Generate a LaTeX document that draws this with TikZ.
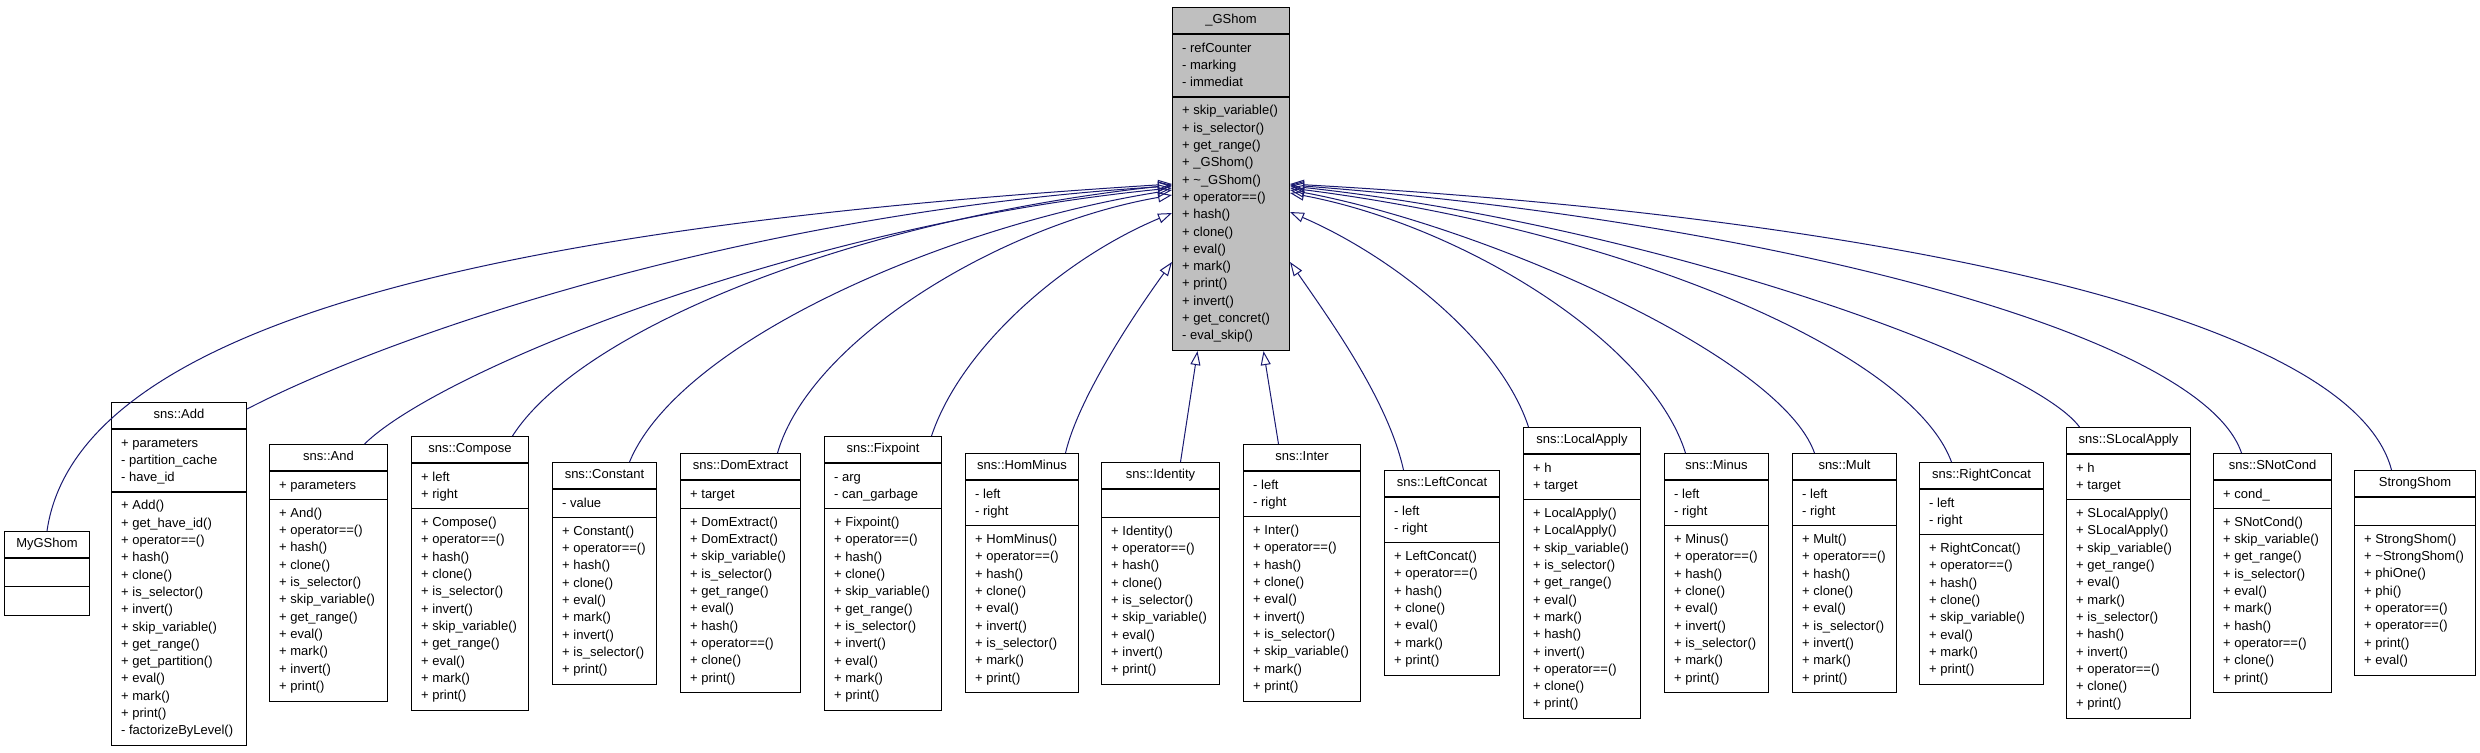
\documentclass[tikz,border=0pt]{standalone}
\usepackage{fontspec}
\newfontfamily\umlfamily{Liberation Sans}
\usetikzlibrary{arrows.meta}
\definecolor{edgeblue}{HTML}{191970}
\definecolor{basegray}{HTML}{BFBFBF}
\newcommand{\umlfont}{\umlfamily\fontsize{13}{17.3}\selectfont}
\newcommand{\memstrut}{\rule{0pt}{12.3pt}}
% class box: [style]{name}{(x,y) top left}{width}{title}{#attrs}{attrs}{#methods}{methods}
\newcommand{\umlclass}[9][]{%
  \pgfmathsetmacro{\hattr}{max(#6,1)*17.3+11}%
  \pgfmathsetmacro{\hmeth}{max(#8,1)*17.3+11}%
  \pgfmathsetmacro{\hall}{27+\hattr+\hmeth}%
  \node[classbox,#1,minimum width=#4pt,minimum height=\hall pt] (#2) at #3 {};
  \draw[compsep] ([yshift=-27pt]#2.north west) coordinate (#2-s1) -- ++(#4,0);
  \draw[compsep] ([yshift=-\hattr pt]#2-s1) coordinate (#2-s2) -- ++(#4,0);
  \node[classname] (#2-name) at ([yshift=-13.5pt]#2.north) {#5};
  \node[members] (#2-attr) at ([xshift=10pt,yshift=-5.5pt]#2-s1) {\memstrut#7};
  \node[members] (#2-meth) at ([xshift=10pt,yshift=-5.5pt]#2-s2) {\memstrut#9};
}

\begin{document}
\begin{tikzpicture}[x=1pt,y=-1pt,
    classbox/.style={draw=black,fill=white,line width=1pt,anchor=north west,inner sep=0pt},
    compsep/.style={line width=1.4pt},
    classname/.style={font=\umlfont,text height=9.5pt,text depth=2.8pt,inner sep=0pt,anchor=center},
    members/.style={font=\umlfont,align=left,anchor=north west,inner sep=0pt},
    inherit/.style={draw=edgeblue,line width=1pt,-{Triangle[open,length=14pt,width=10pt]}}]
  \useasboundingbox (0,0) rectangle (2480,752);

  % base class
  \umlclass[fill=basegray]{gshom}{(1172,7)}{117}{\_GShom}{3}{- refCounter\\- marking\\- immediat}{14}{+ skip\_variable()\\+ is\_selector()\\+ get\_range()\\+ \_GShom()\\+ \textasciitilde\_GShom()\\+ operator==()\\+ hash()\\+ clone()\\+ eval()\\+ mark()\\+ print()\\+ invert()\\+ get\_concret()\\- eval\_skip()}

  % derived classes
  \umlclass{mygshom}{(4,531)}{85}{MyGShom}{0}{}{0}{}
  \umlclass{add}{(111,402)}{135}{sns::Add}{3}{+ parameters\\- partition\_cache\\- have\_id}{14}{+ Add()\\+ get\_have\_id()\\+ operator==()\\+ hash()\\+ clone()\\+ is\_selector()\\+ invert()\\+ skip\_variable()\\+ get\_range()\\+ get\_partition()\\+ eval()\\+ mark()\\+ print()\\- factorizeByLevel()}
  \umlclass{and}{(269,444)}{118}{sns::And}{1}{+ parameters}{11}{+ And()\\+ operator==()\\+ hash()\\+ clone()\\+ is\_selector()\\+ skip\_variable()\\+ get\_range()\\+ eval()\\+ mark()\\+ invert()\\+ print()}
  \umlclass{compose}{(411,436)}{117}{sns::Compose}{2}{+ left\\+ right}{11}{+ Compose()\\+ operator==()\\+ hash()\\+ clone()\\+ is\_selector()\\+ invert()\\+ skip\_variable()\\+ get\_range()\\+ eval()\\+ mark()\\+ print()}
  \umlclass{constant}{(552,462)}{104}{sns::Constant}{1}{- value}{9}{+ Constant()\\+ operator==()\\+ hash()\\+ clone()\\+ eval()\\+ mark()\\+ invert()\\+ is\_selector()\\+ print()}
  \umlclass{domextract}{(680,453)}{120}{sns::DomExtract}{1}{+ target}{10}{+ DomExtract()\\+ DomExtract()\\+ skip\_variable()\\+ is\_selector()\\+ get\_range()\\+ eval()\\+ hash()\\+ operator==()\\+ clone()\\+ print()}
  \umlclass{fixpoint}{(824,436)}{117}{sns::Fixpoint}{2}{- arg\\- can\_garbage}{11}{+ Fixpoint()\\+ operator==()\\+ hash()\\+ clone()\\+ skip\_variable()\\+ get\_range()\\+ is\_selector()\\+ invert()\\+ eval()\\+ mark()\\+ print()}
  \umlclass{homminus}{(965,453)}{113}{sns::HomMinus}{2}{- left\\- right}{9}{+ HomMinus()\\+ operator==()\\+ hash()\\+ clone()\\+ eval()\\+ invert()\\+ is\_selector()\\+ mark()\\+ print()}
  \umlclass{identity}{(1101,462)}{118}{sns::Identity}{0}{}{9}{+ Identity()\\+ operator==()\\+ hash()\\+ clone()\\+ is\_selector()\\+ skip\_variable()\\+ eval()\\+ invert()\\+ print()}
  \umlclass{inter}{(1243,444)}{117}{sns::Inter}{2}{- left\\- right}{10}{+ Inter()\\+ operator==()\\+ hash()\\+ clone()\\+ eval()\\+ invert()\\+ is\_selector()\\+ skip\_variable()\\+ mark()\\+ print()}
  \umlclass{leftconcat}{(1384,470)}{115}{sns::LeftConcat}{2}{- left\\- right}{7}{+ LeftConcat()\\+ operator==()\\+ hash()\\+ clone()\\+ eval()\\+ mark()\\+ print()}
  \umlclass{localapply}{(1523,427)}{117}{sns::LocalApply}{2}{+ h\\+ target}{12}{+ LocalApply()\\+ LocalApply()\\+ skip\_variable()\\+ is\_selector()\\+ get\_range()\\+ eval()\\+ mark()\\+ hash()\\+ invert()\\+ operator==()\\+ clone()\\+ print()}
  \umlclass{minus}{(1664,453)}{104}{sns::Minus}{2}{- left\\- right}{9}{+ Minus()\\+ operator==()\\+ hash()\\+ clone()\\+ eval()\\+ invert()\\+ is\_selector()\\+ mark()\\+ print()}
  \umlclass{mult}{(1792,453)}{104}{sns::Mult}{2}{- left\\- right}{9}{+ Mult()\\+ operator==()\\+ hash()\\+ clone()\\+ eval()\\+ is\_selector()\\+ invert()\\+ mark()\\+ print()}
  \umlclass{rightconcat}{(1919,462)}{124}{sns::RightConcat}{2}{- left\\- right}{8}{+ RightConcat()\\+ operator==()\\+ hash()\\+ clone()\\+ skip\_variable()\\+ eval()\\+ mark()\\+ print()}
  \umlclass{slocalapply}{(2066,427)}{124}{sns::SLocalApply}{2}{+ h\\+ target}{12}{+ SLocalApply()\\+ SLocalApply()\\+ skip\_variable()\\+ get\_range()\\+ eval()\\+ mark()\\+ is\_selector()\\+ hash()\\+ invert()\\+ operator==()\\+ clone()\\+ print()}
  \umlclass{snotcond}{(2213,453)}{118}{sns::SNotCond}{1}{+ cond\_}{10}{+ SNotCond()\\+ skip\_variable()\\+ get\_range()\\+ is\_selector()\\+ eval()\\+ mark()\\+ hash()\\+ operator==()\\+ clone()\\+ print()}
  \umlclass{strongshom}{(2354,470)}{121}{StrongShom}{0}{}{8}{+ StrongShom()\\+ \textasciitilde StrongShom()\\+ phiOne()\\+ phi()\\+ operator==()\\+ operator==()\\+ print()\\+ eval()}

  % inheritance, left side
  \draw[inherit] (mygshom.north) .. controls (80,300) and (600,220) .. ([yshift=-177pt]gshom.north west);
  \draw[inherit] ([yshift=-7pt]add.north east) .. controls (400,330) and (756,212) .. ([yshift=-179pt]gshom.north west);
  \draw[inherit] ([xshift=36pt]and.north) .. controls (440,370) and (800,225) .. ([yshift=-181pt]gshom.north west);
  \draw[inherit] ([xshift=42.5pt]compose.north) .. controls (580,330) and (850,220) .. ([yshift=-178pt]gshom.north west);
  \draw[inherit] ([xshift=25pt]constant.north) .. controls (680,340) and (950,225) .. ([yshift=-183pt]gshom.north west);
  \draw[inherit] ([xshift=37pt]domextract.north) .. controls (810,340) and (1000,225) .. ([yshift=-188pt]gshom.north west);
  \draw[inherit] ([xshift=48.5pt]fixpoint.north) .. controls (960,350) and (1060,260) .. ([yshift=-206pt]gshom.north west);
  \draw[inherit] ([xshift=43.5pt]homminus.north) .. controls (1078,400) and (1130,320) .. ([yshift=-255pt]gshom.north west);
  % inheritance, below
  \draw[inherit] ([xshift=20pt]identity.north) -- ([xshift=-33.5pt]gshom.south);
  \draw[inherit] ([xshift=-23.5pt]inter.north) -- ([xshift=32.5pt]gshom.south);
  % inheritance, right side
  \draw[inherit] ([xshift=-38.5pt]leftconcat.north) .. controls (1388,400) and (1330,320) .. ([yshift=-255pt]gshom.north east);
  \draw[inherit] ([xshift=-53.5pt]localapply.north) .. controls (1500,340) and (1390,255) .. ([yshift=-205pt]gshom.north east);
  \draw[inherit] ([xshift=-31pt]minus.north) .. controls (1650,340) and (1460,225) .. ([yshift=-186pt]gshom.north east);
  \draw[inherit] ([xshift=-30pt]mult.north) .. controls (1780,355) and (1480,225) .. ([yshift=-183pt]gshom.north east);
  \draw[inherit] ([xshift=-30pt]rightconcat.north) .. controls (1910,350) and (1620,230) .. ([yshift=-181pt]gshom.north east);
  \draw[inherit] ([xshift=-49pt]slocalapply.north) .. controls (2030,360) and (1650,225) .. ([yshift=-179pt]gshom.north east);
  \draw[inherit] ([xshift=-31pt]snotcond.north) .. controls (2200,330) and (1750,220) .. ([yshift=-178pt]gshom.north east);
  \draw[inherit] ([xshift=-23.5pt]strongshom.north) .. controls (2350,310) and (1850,215) .. ([yshift=-177pt]gshom.north east);
\end{tikzpicture}
\end{document}
